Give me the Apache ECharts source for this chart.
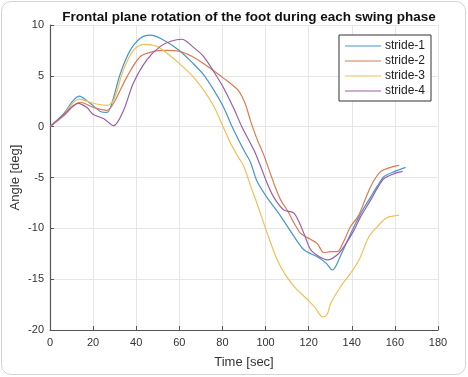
<!DOCTYPE html>
<html>
<head>
<meta charset="utf-8">
<script src="https://cdn.jsdelivr.net/npm/echarts@6/dist/echarts.min.js"></script>
<style>
    html, body { margin: 0; padding: 0; background: #fff; }
    #card {
        position: absolute; left: 1px; top: 1px; width: 463px; height: 372px;
        border: 1px solid #d4d4d4; border-radius: 10px; background: #fff;
    }
    #chart { position: absolute; left: 0; top: 0; width: 468px; height: 377px; }
</style>
</head>
<body>
<div id="card"></div>
<div id="chart"></div>
<script>
var titleText = 'Frontal plane rotation of the foot during each swing phase';
var seriesNames = ['stride-1', 'stride-2', 'stride-3', 'stride-4'];
var colors = ['#4596cc', '#da7b52', '#f0c057', '#9a5ea9'];

// stride-1
var time1 = [0, 6, 13.5, 18.6, 23.3, 26.5, 28.7, 32.6, 37.2, 41.9, 46.5, 52, 60, 66, 71.3, 76, 80.3, 84.5, 89.9, 93, 96.1, 100.8, 107, 113.2, 117.8, 124, 128, 131, 135, 139.5, 144, 148.8, 152, 155, 160, 165];
var angle1 = [0, 1.2, 3.0, 2.3, 1.5, 1.4, 2.3, 5.2, 7.5, 8.7, 9.0, 8.6, 7.5, 6.3, 5.1, 3.6, 2.0, 0, -2.3, -3.5, -5.4, -7.0, -8.8, -10.8, -12.1, -12.8, -13.4, -14.1, -12.6, -10.5, -8.6, -6.9, -5.8, -4.9, -4.4, -4.0];

// stride-2
var time2 = [0, 6, 14, 20.1, 26.4, 29.5, 35.7, 41.9, 48, 54, 60, 66, 71.3, 76, 80.3, 84, 87.6, 90.5, 93, 96, 99.2, 103.9, 107, 110, 113, 116.3, 121, 124, 127.1, 130, 133.3, 136, 139.5, 143, 147.3, 150, 153.5, 158, 162];
var angle2 = [0, 1.0, 2.4, 1.9, 1.6, 2.3, 4.9, 6.9, 7.4, 7.5, 7.4, 6.9, 6.2, 5.5, 4.8, 4.2, 3.5, 2.3, 0.6, -1.2, -2.8, -5.6, -7.2, -8.2, -9.4, -10.5, -11.1, -11.5, -12.4, -12.3, -12.3, -11.4, -9.8, -8.8, -6.6, -5.4, -4.4, -4.0, -3.8];

// stride-3
var time3 = [0, 6, 13.5, 20.1, 26.4, 29.5, 34.1, 38.7, 43.4, 49.6, 55, 60.1, 66, 71.3, 76, 80.3, 83.5, 86.8, 89.9, 93, 96.1, 100.8, 105.4, 109, 113.2, 119.4, 123, 126.4, 128.5, 130.2, 134.9, 139.5, 143.4, 148, 152, 155.8, 159, 162];
var angle3 = [0, 1.1, 2.7, 2.3, 2.1, 2.6, 5.6, 7.5, 8.1, 7.9, 7.1, 6.2, 5.0, 3.6, 2.0, 0, -1.5, -2.8, -3.9, -5.8, -7.6, -10.5, -13.1, -14.5, -15.7, -17.0, -17.8, -18.7, -18.5, -17.4, -15.7, -14.4, -13.1, -10.8, -9.8, -9.0, -8.8, -8.7];

// stride-4
var time4 = [0, 6, 13, 17, 20.1, 24.8, 29.5, 34.1, 38.7, 45, 51.2, 56, 61.2, 66, 71.3, 76, 80.3, 85, 89, 94.6, 97.7, 100.8, 104, 108.5, 113.2, 117.8, 120.9, 125, 128.7, 133.3, 137, 141, 144, 148.8, 152, 155, 160, 163.6];
var angle4 = [0, 1.1, 2.3, 1.9, 1.2, 0.8, 0.1, 1.6, 4.3, 6.6, 7.9, 8.4, 8.6, 7.9, 6.9, 5.4, 3.9, 1.9, 0, -2.3, -3.9, -5.6, -7.0, -8.2, -8.5, -10.5, -12.1, -12.8, -13.1, -12.6, -11.6, -10.2, -8.9, -7.2, -6.0, -5.1, -4.6, -4.4];

var xTicks = [0, 20, 40, 60, 80, 100, 120, 140, 160, 180];
var yTicks = [-20, -15, -10, -5, 0, 5, 10];

var times = [time1, time2, time3, time4];
var angles = [angle1, angle2, angle3, angle4];

function pairs(xs, ys) {
    return xs.map(function (x, i) {
        return [x, ys[i]];
    });
}

var chart = echarts.init(document.getElementById('chart'));
var font = 'Liberation Sans';

var option = {
    animation: false,
    backgroundColor: 'transparent',
    color: colors,
    title: {
        text: titleText,
        left: 244,
        textAlign: 'center',
        top: 5,
        textStyle: { fontFamily: font, fontSize: 13.5, fontWeight: 'bold', color: '#111' }
    },
    legend: {
        orient: 'vertical',
        left: 339,
        top: 35,
        padding: [5, 6, 4, 6],
        itemWidth: 36,
        itemHeight: 10,
        itemGap: 3,
        backgroundColor: '#fff',
        borderColor: '#333',
        borderWidth: 1,
        icon: 'path://M0,4.5 L36,4.5 L36,5.5 L0,5.5 Z',
        textStyle: { fontFamily: font, fontSize: 12, color: '#222', padding: [0, 0, 0, -1] },
        data: seriesNames
    },
    grid: { left: 50, right: 30, top: 25, bottom: 47, containLabel: false, outerBoundsMode: 'none' },
    xAxis: {
        type: 'value',
        min: xTicks[0],
        max: xTicks[xTicks.length - 1],
        interval: 20,
        name: 'Time [sec]',
        nameLocation: 'middle',
        nameGap: 26,
        nameMoveOverlap: false,
        nameTextStyle: { fontFamily: font, fontSize: 13, color: '#333' },
        axisLine: { onZero: false, lineStyle: { color: '#555', width: 1.2 } },
        axisTick: { inside: true, length: 4, lineStyle: { color: '#555' } },
        axisLabel: { fontFamily: font, fontSize: 11, color: '#333', margin: 7 },
        splitLine: { show: true, lineStyle: { color: '#e6e6e6' } }
    },
    yAxis: {
        type: 'value',
        min: yTicks[0],
        max: yTicks[yTicks.length - 1],
        interval: 5,
        name: 'Angle [deg]',
        nameLocation: 'middle',
        nameGap: 28,
        nameMoveOverlap: false,
        nameTextStyle: { fontFamily: font, fontSize: 13, color: '#333' },
        axisLine: { show: true, onZero: false, lineStyle: { color: '#555', width: 1.2 } },
        axisTick: { show: true, inside: true, length: 4, lineStyle: { color: '#555' } },
        axisLabel: { fontFamily: font, fontSize: 11, color: '#333', margin: 6 },
        splitLine: { show: true, lineStyle: { color: '#e6e6e6' } }
    },
    series: seriesNames.map(function (name, i) {
        return {
            name: name,
            type: 'line',
            data: pairs(times[i], angles[i]),
            smooth: 0.3,
            showSymbol: false,
            lineStyle: { width: 1.2, color: colors[i] }
        };
    })
};

chart.setOption(option);
</script>
</body>
</html>
